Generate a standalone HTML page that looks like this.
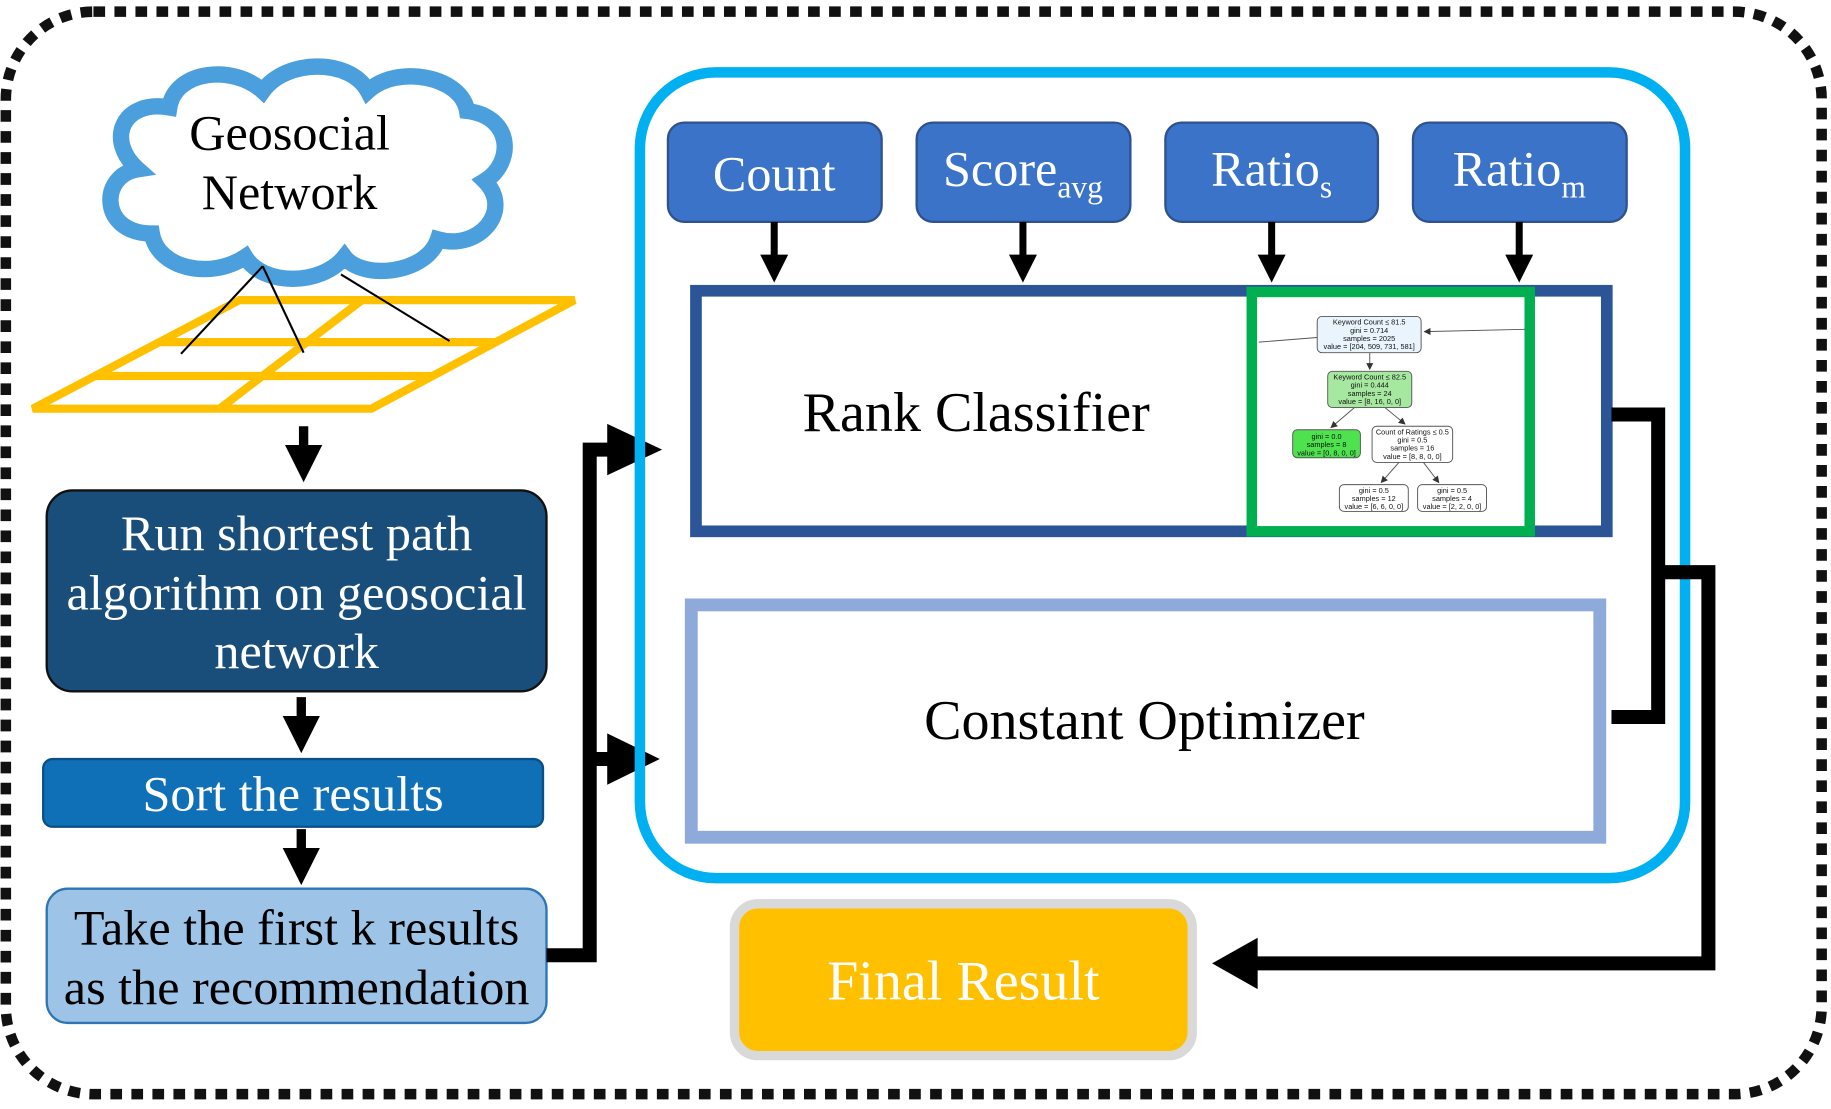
<!DOCTYPE html>
<html><head><meta charset="utf-8"><style>html,body{margin:0;padding:0;background:#fff}svg{display:block}</style></head>
<body>
<svg width="1831" height="1109" viewBox="0 0 1568 949.7" xmlns="http://www.w3.org/2000/svg" font-family="Liberation Serif, serif">
<defs>
<marker id="ah" markerWidth="4" markerHeight="4" refX="3" refY="2" orient="auto" markerUnits="strokeWidth"><path d="M0,0 L4,2 L0,4 z" fill="#000"/></marker>
<marker id="sa" markerWidth="6" markerHeight="6" refX="5" refY="3" orient="auto" markerUnits="userSpaceOnUse"><path d="M0,0 L6,3 L0,6 z" fill="#333"/></marker>
</defs>
<rect x="5" y="10" width="1555" height="927" rx="75" fill="none" stroke="#111" stroke-width="9" stroke-dasharray="10 8"/>
<!-- cloud -->
<path d="M130,200 C85,200 85,150 118,145 C90,120 105,85 145,92 C150,60 200,55 225,78 C245,50 300,50 315,78 C340,55 395,65 400,95 C440,100 440,140 415,155 C440,180 410,215 375,205 C365,235 310,240 295,220 C275,245 225,245 210,220 C180,240 135,230 130,200 Z" fill="#fff" stroke="#4a9fdc" stroke-width="14"/>
<text x="248" y="128" font-size="43" text-anchor="middle">Geosocial</text>
<text x="248" y="179" font-size="43" text-anchor="middle">Network</text>
<!-- grid -->
<g stroke="#ffc000" stroke-width="7" fill="none">
<path d="M205,257 L492,257 L318,350 L28,350 Z"/>
<line x1="136" y1="293" x2="425" y2="293"/>
<line x1="81" y1="322" x2="370" y2="322"/>
<line x1="310" y1="257" x2="188" y2="350"/>
</g>
<g stroke="#000" stroke-width="1.8">
<line x1="225" y1="228" x2="155" y2="303"/>
<line x1="225" y1="228" x2="260" y2="302"/>
<line x1="292" y1="235" x2="385" y2="292"/>
</g>
<!-- down arrows left -->
<g stroke="#000" stroke-width="8" marker-end="url(#ah)">
<line x1="260" y1="365" x2="260" y2="405"/>
<line x1="258" y1="597" x2="258" y2="637"/>
<line x1="258" y1="710" x2="258" y2="750"/>
</g>
<rect x="40" y="420" width="428" height="172" rx="22" fill="#1a4e7a" stroke="#111" stroke-width="2"/>
<g fill="#fff" font-size="43" text-anchor="middle">
<text x="254" y="471">Run shortest path</text>
<text x="254" y="522">algorithm on geosocial</text>
<text x="254" y="572">network</text>
</g>
<rect x="37" y="650" width="428" height="58" rx="8" fill="#0f70b7" stroke="#0b4f85" stroke-width="2"/>
<text x="251" y="694" fill="#fff" font-size="43" text-anchor="middle">Sort the results</text>
<rect x="40" y="761" width="428" height="115" rx="18" fill="#9dc3e6" stroke="#2e75b6" stroke-width="2"/>
<g font-size="43" text-anchor="middle">
<text x="254" y="809">Take the first k results</text>
<text x="254" y="860">as the recommendation</text>
</g>
<!-- left connector -->
<path d="M468,818 L505,818 L505,385 L525,385" fill="none" stroke="#000" stroke-width="12"/>
<path d="M505,650 L525,650" stroke="#000" stroke-width="12"/>
<path d="M520,363 L567,385 L520,407 Z" fill="#000"/>
<path d="M520,628 L565,650 L520,672 Z" fill="#000"/>
<!-- big container -->
<rect x="548" y="62" width="895" height="690" rx="65" fill="none" stroke="#00b0f0" stroke-width="9"/>
<g fill="#3b73c8" stroke="#2f528f" stroke-width="2">
<rect x="572" y="105" width="183" height="85" rx="14"/>
<rect x="785" y="105" width="183" height="85" rx="14"/>
<rect x="998" y="105" width="182" height="85" rx="14"/>
<rect x="1210" y="105" width="183" height="85" rx="14"/>
</g>
<g fill="#fff" font-size="43" text-anchor="middle">
<text x="663" y="163">Count</text>
<text x="876" y="159">Score<tspan font-size="27" dy="10">avg</tspan></text>
<text x="1089" y="159">Ratio<tspan font-size="27" dy="10">s</tspan></text>
<text x="1301" y="159">Ratio<tspan font-size="27" dy="10">m</tspan></text>
</g>
<g stroke="#000" stroke-width="6" marker-end="url(#ah)">
<line x1="663" y1="190" x2="663" y2="236"/>
<line x1="876" y1="190" x2="876" y2="236"/>
<line x1="1089" y1="190" x2="1089" y2="236"/>
<line x1="1301" y1="190" x2="1301" y2="236"/>
</g>
<rect x="596" y="249" width="780" height="206" fill="#fff" stroke="#2b5597" stroke-width="10"/>
<text x="836" y="369" font-size="48" text-anchor="middle">Rank Classifier</text>
<rect x="1072" y="250" width="238" height="205" fill="#fff" stroke="#00b050" stroke-width="9"/>
<!-- tree -->
<g stroke="#555" stroke-width="0.8">
<line x1="1078" y1="293" x2="1128" y2="289"/>
<line x1="1306" y1="282" x2="1220" y2="284" marker-end="url(#sa)"/>
<line x1="1173" y1="302" x2="1173" y2="316" marker-end="url(#sa)"/>
<line x1="1160" y1="349" x2="1140" y2="366" marker-end="url(#sa)"/>
<line x1="1186" y1="349" x2="1203" y2="363" marker-end="url(#sa)"/>
<line x1="1198" y1="396" x2="1183" y2="413" marker-end="url(#sa)"/>
<line x1="1219" y1="396" x2="1232" y2="413" marker-end="url(#sa)"/>
</g>
<g stroke="#555" stroke-width="0.8">
<rect x="1128" y="271" width="89" height="31" rx="4" fill="#eaf4fd"/>
<rect x="1137" y="318" width="72" height="31" rx="4" fill="#a6e8a0"/>
<rect x="1107" y="368" width="58" height="24" rx="4" fill="#4ee24e"/>
<rect x="1175" y="365" width="69" height="31" rx="4" fill="#fff"/>
<rect x="1147" y="415" width="59" height="23" rx="4" fill="#fff"/>
<rect x="1214" y="415" width="59" height="23" rx="4" fill="#fff"/>
</g>
<g font-family="Liberation Sans, sans-serif" font-size="6.3" text-anchor="middle" fill="#111">
<text x="1172.5" y="278">Keyword Count ≤ 81.5</text><text x="1172.5" y="285">gini = 0.714</text><text x="1172.5" y="292">samples = 2025</text><text x="1172.5" y="299">value = [204, 509, 731, 581]</text>
<text x="1173" y="325">Keyword Count ≤ 82.5</text><text x="1173" y="332">gini = 0.444</text><text x="1173" y="339">samples = 24</text><text x="1173" y="346">value = [8, 16, 0, 0]</text>
<text x="1136" y="376">gini = 0.0</text><text x="1136" y="383">samples = 8</text><text x="1136" y="390">value = [0, 8, 0, 0]</text>
<text x="1209.5" y="372">Count of Ratings ≤ 0.5</text><text x="1209.5" y="379">gini = 0.5</text><text x="1209.5" y="386">samples = 16</text><text x="1209.5" y="393">value = [8, 8, 0, 0]</text>
<text x="1176.5" y="422">gini = 0.5</text><text x="1176.5" y="429">samples = 12</text><text x="1176.5" y="436">value = [6, 6, 0, 0]</text>
<text x="1243.5" y="422">gini = 0.5</text><text x="1243.5" y="429">samples = 4</text><text x="1243.5" y="436">value = [2, 2, 0, 0]</text>
</g>
<rect x="592" y="518" width="778" height="199" fill="#fff" stroke="#8eaadb" stroke-width="11"/>
<text x="980" y="633" font-size="48" text-anchor="middle">Constant Optimizer</text>
<!-- right connector -->
<path d="M1380,355 L1420,355 L1420,614 L1380,614" fill="none" stroke="#000" stroke-width="12"/>
<path d="M1420,490 L1463,490 L1463,825 L1075,825" fill="none" stroke="#000" stroke-width="12"/>
<path d="M1077,803 L1038,825 L1077,847 Z" fill="#000"/>
<!-- final result -->
<rect x="629" y="774" width="392" height="130" rx="20" fill="#ffc000" stroke="#d9d9d9" stroke-width="8"/>
<text x="825" y="856" fill="#fff" font-size="48" text-anchor="middle">Final Result</text>
</svg>
</body></html>
